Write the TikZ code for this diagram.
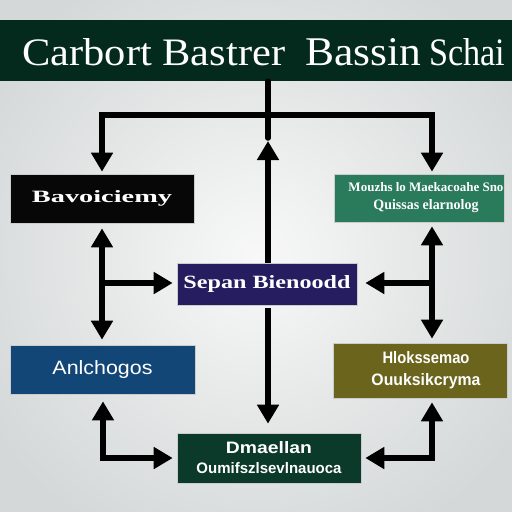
\documentclass[tikz,border=0pt]{standalone}
\usepackage{fontspec}
\setmainfont{Liberation Serif}
\newfontfamily\arialf{Liberation Sans}
\usetikzlibrary{arrows.meta}
\definecolor{bgin}{RGB}{248,248,248}
\definecolor{bgout}{RGB}{212,216,216}
\definecolor{titlec}{RGB}{4,42,30}
\definecolor{boxa}{RGB}{7,7,7}
\definecolor{boxb}{RGB}{42,122,92}
\definecolor{boxc}{RGB}{37,29,95}
\definecolor{boxd}{RGB}{18,70,119}
\definecolor{boxe}{RGB}{106,100,28}
\definecolor{boxf}{RGB}{11,58,42}
\newcommand\fitt[3]{\resizebox{#1pt}{#2pt}{#3}}
\begin{document}
\begin{tikzpicture}[x=1pt,y=-1pt,
  box/.style={inner sep=0pt, text=white, align=center, draw=white!60!gray, line width=0.6pt},
  conn/.style={line width=5.5pt, draw=black, line join=miter},
  arr/.style={conn, -{Triangle[width=21pt,length=19pt]}},
  darr/.style={conn, {Triangle[width=21pt,length=19pt]}-{Triangle[width=21pt,length=19pt]}}]
\useasboundingbox (0,0) rectangle (512,512);
\shade[inner color=bgin, outer color=bgout] (-60,-60) rectangle (572,572);
% title
\node (t) [fill=titlec, minimum width=520pt, minimum height=61pt, inner sep=0pt] at (258,50.5) {};
\node (tt) [anchor=west, text=white, inner sep=0pt, font=\fontsize{43}{43}\selectfont] at (22,52) {\fitt{263}{27}{Carbort Bastrer}\hspace{20pt}\fitt{116}{27}{Bassin}\hspace{8pt}\fitt{76}{27}{Schai}};
% boxes
\node (b1) [box, fill=boxa, minimum width=184pt, minimum height=49pt] at (102,198.5) {\fitt{140}{12}{\bfseries Bavoiciemy}};
\node (b2) [box, fill=boxb, minimum width=170pt, minimum height=48pt, font=\fontsize{10}{18}\selectfont] at (419,198) {\hspace{14pt}\fitt{155}{9}{\bfseries Mouzhs lo Maekacoahe Sno}\\ \hspace{14pt}\fitt{105}{10}{\bfseries Quissas elarnolog}};
\node (bc) [box, fill=boxc, minimum width=180pt, minimum height=42pt] at (267,284) {\fitt{167}{13}{\bfseries Sepan Bienoodd}};
\node (b4) [box, fill=boxd, minimum width=185pt, minimum height=49pt] at (102.5,369.5) {\fitt{100}{14}{\arialf Anlchogos}};
\node (b5) [box, fill=boxe, minimum width=174pt, minimum height=55pt, font=\fontsize{10}{22}\selectfont] at (420,370.5) {\hspace{12pt}\fitt{87}{12}{\arialf\bfseries Hlokssemao}\\ \hspace{12pt}\fitt{109}{12}{\arialf\bfseries Ouuksikcryma}};
\node (b6) [box, fill=boxf, minimum width=184pt, minimum height=50pt, font=\fontsize{10}{20}\selectfont] at (269,458) {\fitt{86}{12}{\arialf\bfseries Dmaellan}\\ \fitt{145}{11}{\arialf\bfseries Oumifszlsevlnauoca}};
% connector points
\coordinate (stem) at (268,138);
\coordinate (hl) at (102,115);
\coordinate (hr) at (432,115);
\coordinate (upt) at (268,141);
\coordinate (lv) at (102,283);
\coordinate (rv) at (432,283);
\coordinate (bl) at (103,458);
\coordinate (br) at (432,458);
% top distribution
\draw[conn, line cap=round] (t.south -| stem) -- (stem);
\draw[arr, shorten >=2pt] (hr) -- (hl) -- (b1.north -| hl);
\draw[arr, shorten >=2pt] (hl) -- (hr) -- (b2.north -| hr);
\draw[arr] (bc.north -| upt) -- (upt);
% center down
\draw[arr, shorten <=3pt, shorten >=9pt] (bc.south -| upt) -- (b6.north -| upt);
% left
\draw[darr, shorten <=5pt, shorten >=5pt] (b1.south -| lv) -- (b4.north -| lv);
\draw[arr, shorten >=4pt] (lv) -- (bc.west |- lv);
% right
\draw[darr, shorten <=4pt, shorten >=4pt] (b2.south -| rv) -- (b5.north -| rv);
\draw[arr, shorten >=8pt] (rv) -- (bc.east |- rv);
% bottom elbows
\draw[darr, shorten <=7pt, shorten >=4pt] (b4.south -| bl) -- (bl) -- (b6.west |- bl);
\draw[darr, shorten <=4pt, shorten >=4pt] (b6.east |- br) -- (br) -- (b5.south -| br);
\end{tikzpicture}
\end{document}
